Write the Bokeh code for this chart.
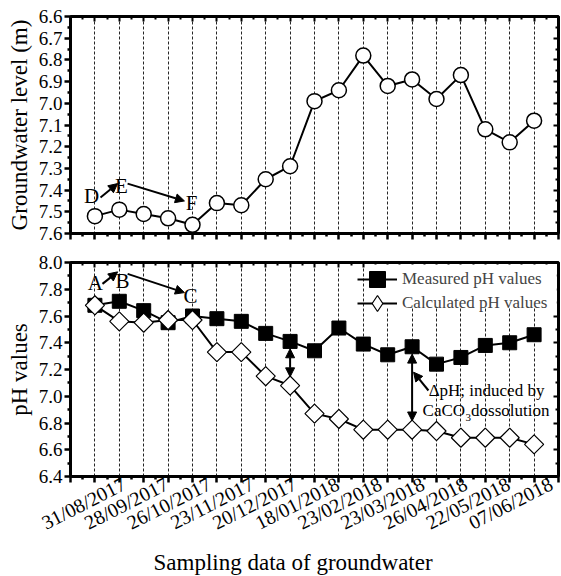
import math
import numpy as np
from bokeh.plotting import figure
from bokeh.layouts import column
from bokeh.models import (Range1d, LinearAxis, FixedTicker, NumeralTickFormatter, Arrow,
                          NormalHead, Label, Legend, LegendItem, BoxAnnotation, Title)
from bokeh.embed import file_html
from bokeh.resources import INLINE

# ---------------- data ----------------
sample_index = list(range(1, 20))
groundwater_level = [7.52, 7.49, 7.51, 7.53, 7.56, 7.46, 7.47, 7.35, 7.29, 6.99,
                     6.94, 6.78, 6.92, 6.89, 6.98, 6.87, 7.12, 7.18, 7.08]
measured_ph = [7.68, 7.71, 7.64, 7.55, 7.60, 7.58, 7.56, 7.47, 7.41, 7.34,
               7.51, 7.39, 7.31, 7.37, 7.24, 7.29, 7.38, 7.40, 7.46]
calculated_ph = [7.68, 7.56, 7.55, 7.57, 7.57, 7.33, 7.33, 7.15, 7.08, 6.87,
                 6.83, 6.75, 6.75, 6.75, 6.74, 6.69, 6.69, 6.69, 6.64]
date_labels = ["31/08/2017", "28/09/2017", "26/10/2017", "23/11/2017", "20/12/2017",
               "18/01/2018", "23/02/2018", "23/03/2018", "26/04/2018", "22/05/2018",
               "07/06/2018"]
level_ticks = [6.6, 6.7, 6.8, 6.9, 7.0, 7.1, 7.2, 7.3, 7.4, 7.5, 7.6]
ph_ticks = [6.4, 6.6, 6.8, 7.0, 7.2, 7.4, 7.6, 7.8, 8.0]
legend_labels = ["Measured pH values", "Calculated pH values"]

FONT = "Liberation Serif"
X_END = len(sample_index) + 1

major_x = list(range(0, X_END + 1))
minor_x = [i + 0.5 for i in range(0, X_END)]


def y_ticker(ticks):
    minors = [round((a + b) / 2, 3) for a, b in zip(ticks[:-1], ticks[1:])]
    return FixedTicker(ticks=ticks, minor_ticks=minors)


def hidden_label_axis(ticker):
    return LinearAxis(ticker=ticker, major_tick_in=5, major_tick_out=0, minor_tick_in=3,
                      minor_tick_out=0, major_tick_line_width=2, minor_tick_line_width=2,
                      major_label_text_font_size="1px", major_label_text_color=None,
                      major_label_standoff=0, axis_line_color=None)


def style_fig(p, ticks, y_title):
    p.outline_line_color = "black"
    p.outline_line_width = 3
    p.outline_line_alpha = 1
    p.background_fill_color = "white"
    p.border_fill_color = "white"
    p.ygrid.grid_line_color = None
    p.xgrid.ticker = FixedTicker(ticks=sample_index)
    p.xgrid.grid_line_color = "black"
    p.xgrid.grid_line_dash = "3 2"
    p.xgrid.grid_line_width = 1
    p.xgrid.grid_line_alpha = 0.85
    ya = p.yaxis[0]
    ya.ticker = y_ticker(ticks)
    ya.formatter = NumeralTickFormatter(format="0.0")
    ya.axis_line_width = 3
    ya.major_tick_line_width = 2.5
    ya.minor_tick_line_width = 2.5
    ya.major_tick_out = 6
    ya.major_tick_in = 0
    ya.minor_tick_out = 3
    ya.minor_tick_in = 0
    ya.major_label_text_font = FONT
    ya.major_label_text_font_size = "19px"
    ya.major_label_text_color = "black"
    ya.major_label_standoff = 2
    ya.axis_label = y_title
    ya.axis_label_text_font = FONT
    ya.axis_label_text_font_size = "23px"
    ya.axis_label_text_font_style = "normal"
    ya.axis_label_text_color = "black"
    ya.axis_label_standoff = 4
    xa = p.xaxis[0]
    xa.ticker = FixedTicker(ticks=major_x, minor_ticks=minor_x)
    xa.axis_line_width = 3
    xa.major_tick_line_width = 2.5
    xa.minor_tick_line_width = 2.5
    xa.major_tick_out = 6
    xa.major_tick_in = 0
    xa.minor_tick_out = 3
    xa.minor_tick_in = 0
    xa.major_label_text_font_size = "1px"
    xa.major_label_text_color = None
    xa.major_label_standoff = 0
    p.add_layout(hidden_label_axis(FixedTicker(ticks=major_x, minor_ticks=minor_x)), "above")
    p.add_layout(hidden_label_axis(y_ticker(ticks)), "right")


def add_label(p, x, y, text, size="21px", align="center", baseline="middle", x_off=0, y_off=0):
    p.add_layout(Label(x=x, y=y, text=text, text_font=FONT, text_font_size=size,
                       text_align=align, text_baseline=baseline, text_color="black",
                       x_offset=x_off, y_offset=y_off))


def add_arrow(p, x0, y0, x1, y1, both=False):
    kw = dict(end=NormalHead(size=9, fill_color="black", line_color="black", line_width=1),
              x_start=x0, y_start=y0, x_end=x1, y_end=y1, line_color="black", line_width=2)
    kw["start"] = (NormalHead(size=9, fill_color="black", line_color="black", line_width=1)
                   if both else None)
    p.add_layout(Arrow(**kw))


# ---------------- top panel ----------------
p1 = figure(width=561, height=245, x_range=Range1d(0, X_END),
            y_range=Range1d(level_ticks[-1], level_ticks[0]),
            output_backend="svg", toolbar_location=None,
            min_border_left=70, min_border_right=3, min_border_top=16, min_border_bottom=12)
style_fig(p1, level_ticks, "Groundwater level (m)")
p1.line(sample_index, groundwater_level, line_color="black", line_width=2)
p1.scatter(sample_index, groundwater_level, marker="circle", size=15,
           fill_color="white", line_color="black", line_width=1.5)

add_label(p1, 0.86, 7.425, "D")
add_arrow(p1, 1.23, 7.434, 1.93, 7.37)
add_label(p1, 2.09, 7.38, "E")
add_arrow(p1, 2.34, 7.37, 4.67, 7.45)
add_label(p1, 4.96, 7.46, "F")

# ---------------- bottom panel ----------------
p2 = figure(width=561, height=331, x_range=Range1d(0, X_END),
            y_range=Range1d(ph_ticks[0], ph_ticks[-1]),
            output_backend="svg", toolbar_location=None,
            min_border_left=70, min_border_right=3, min_border_top=17, min_border_bottom=97)
style_fig(p2, ph_ticks, "pH values")

m_line = p2.line(sample_index, measured_ph, line_color="black", line_width=2)
m_pts = p2.scatter(sample_index, measured_ph, marker="square", size=14,
                   fill_color="black", line_color="black", line_width=1)
c_line = p2.line(sample_index, calculated_ph, line_color="black", line_width=2)
# diamond drawn first (serves as the legend swatch), covered by the rotated squares
c_diam = p2.scatter(sample_index, calculated_ph, marker="diamond", size=18,
                    fill_color="white", line_color="black", line_width=1.2)
c_pts = p2.scatter(sample_index, calculated_ph, marker="square", angle=math.pi / 4, size=13.5,
                   fill_color="white", line_color="black", line_width=1.2)

n_lab = len(date_labels)
lab_pos = [float(v) for v in np.linspace(2.2, X_END - 0.3, n_lab)]
lab_ax = LinearAxis(ticker=FixedTicker(ticks=lab_pos, minor_ticks=[]),
                    major_label_overrides={pos: txt for pos, txt in zip(lab_pos, date_labels)},
                    major_tick_in=0, major_tick_out=0, minor_tick_in=0, minor_tick_out=0,
                    axis_line_color=None, major_label_orientation=math.radians(27),
                    major_label_text_font=FONT, major_label_text_font_size="20px",
                    major_label_text_color="black", major_label_standoff=0)
p2.add_layout(lab_ax, "below")
p2.add_layout(Title(text="Sampling data of groundwater", text_font=FONT,
                    text_font_size="23px", text_font_style="normal", text_color="black",
                    align="left", offset=83, standoff=3), "below")

add_label(p2, 1.02, 7.85, "A")
add_arrow(p2, 1.31, 7.84, 1.93, 7.93)
add_label(p2, 2.13, 7.86, "B")
add_arrow(p2, 2.34, 7.915, 4.67, 7.775)
add_label(p2, 4.92, 7.75, "C")

for idx in (9, 14):
    i = sample_index.index(idx)
    add_arrow(p2, idx, measured_ph[i] - 0.055, idx, calculated_ph[i] + 0.065, both=True)

add_arrow(p2, 14.67, 7.043, 14.06, 7.18)
add_label(p2, 17.05, 7.04, "\u0394pH; induced by", size="17px")
add_label(p2, 16.17, 6.89, "CaCO", size="17px", align="right")
add_label(p2, 16.17, 6.89, "3", size="11px", align="left", x_off=0.5, y_off=-7)
add_label(p2, 16.17, 6.89, " dossolution", size="17px", align="left", x_off=6)

box = BoxAnnotation(left=12.12, right=X_END - 0.07, bottom=7.665, top=7.985,
                    fill_color="white", fill_alpha=1, line_color=None)
p2.add_layout(box)

GH = 44
common = dict(orientation="vertical", glyph_width=40, glyph_height=GH, padding=0, margin=0,
              label_standoff=5, label_text_font=FONT, label_text_font_size="17px",
              background_fill_alpha=0, border_line_color=None)
leg_a = Legend(items=[LegendItem(label=legend_labels[0], renderers=[m_line, m_pts])],
               location=(287, 217 - 20 - GH // 2), **common)
leg_b = Legend(items=[LegendItem(label=legend_labels[1], renderers=[c_line, c_diam])],
               location=(287, 217 - 44 - GH // 2), **common)
p2.add_layout(leg_a)
p2.add_layout(leg_b)

layout = column(p1, p2, spacing=0)
open("out.html", "w").write(file_html(layout, INLINE))
